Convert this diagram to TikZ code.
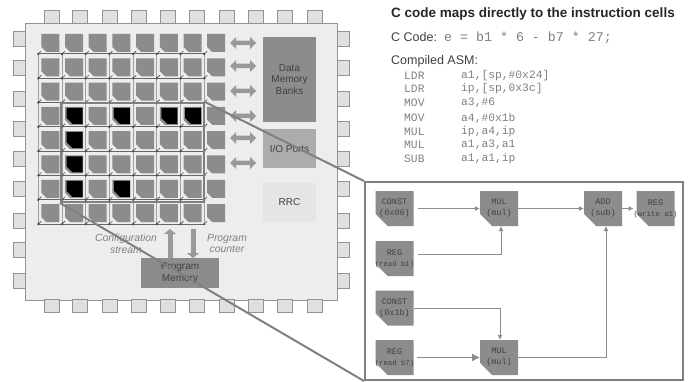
\documentclass[tikz,border=0pt]{standalone}
\usepackage{fontspec}
\setmainfont{Liberation Sans}
\setmonofont{Liberation Mono}
\usetikzlibrary{shapes.arrows,arrows.meta}
\definecolor{cellgray}{gray}{0.55}
\definecolor{linegray}{gray}{0.5}
\definecolor{chipgray}{gray}{0.93}
\definecolor{padgray}{gray}{0.88}
\definecolor{inkgray}{gray}{0.25}
\tikzset{
    pad/.style={draw=gray!85, fill=padgray, line width=0.8pt, minimum width=15pt, minimum height=13pt, inner sep=0pt, outer sep=0pt},
    bank/.style={fill=cellgray, text=inkgray, align=center, inner sep=0pt, outer sep=0pt, font=\fontsize{10}{11.7}\selectfont},
    swap/.style={double arrow, fill=gray!80, minimum height=26pt, minimum width=12pt, double arrow head extend=2pt, inner sep=1pt},
    busarrow/.style={-{Triangle[length=5pt,width=12pt]}, line width=5pt, draw=gray!80},
    note/.style={text=gray, font=\fontsize{10.4}{11.5}\selectfont\itshape, align=center},
    zoomline/.style={draw=linegray, line width=2pt},
    op/.style={text=inkgray, minimum width=38pt, minimum height=35pt, inner sep=0pt, outer sep=0pt, align=center, font=\ttfamily\fontsize{8.5}{11}\selectfont},
    flow/.style={-{Latex[length=5pt,width=5pt]}, draw=gray!90, line width=1pt},
    asm/.style={anchor=west, inner sep=0pt, text=gray, font=\ttfamily\fontsize{11.3}{13}\selectfont},
}
% colour, centre x, centre y, width, height, size of the cut corner
\newcommand{\cutbox}[6]{\fill[#1] (#2,#3) ++({-#4/2},{-#5/2}) -- ++(#4,0) -- ++(0,#5) -- ++({#6-#4},0) -- ++({-#6},{-#6}) -- cycle;}
% name, centre x, centre y, text
\newcommand{\opcell}[4]{\cutbox{cellgray}{#2}{#3}{38}{35}{12}\node[op] (#1) at (#2,#3) {#4};}
\newcommand{\smalltag}[1]{{\fontsize{7.3}{9}\selectfont #1}}
\begin{document}
\begin{tikzpicture}[x=1pt, y=-1pt]
    \useasboundingbox (0,0) rectangle (690,382);

    % Chip body
    \node[draw=gray!85, fill=chipgray, line width=0.8pt, minimum width=312pt, minimum height=277pt, inner sep=0pt] (chip) at (181,161.5) {};

    % Pads on the four sides
    \foreach \x [count=\i] in {52,80,110,139,168,197,227,256,285,315} {
        \node[pad] (padtop\i) at (\x,17) {};
        \node[pad] (padbot\i) at (\x,306) {};
    }
    \foreach \y [count=\i] in {39,68,99,129,159,189,221,250,281} {
        \node[pad, minimum width=12pt, minimum height=15pt] (padleft\i) at (19,\y) {};
        \node[pad, minimum width=12pt, minimum height=15pt] (padright\i) at (343,\y) {};
    }

    % Routing grid
    \foreach \c in {0,...,7} {
        \draw[gray!75, line width=1pt] ({38.3+23.7*\c},54) -- ({38.3+23.7*\c},225);
    }
    \foreach \r in {0,...,7} {
        \draw[gray!80!black, line width=1pt] (38.3,{54+24.3*\r}) -- (204.2,{54+24.3*\r});
    }

    % Cells
    \foreach \c in {0,...,7} {
        \foreach \r in {0,...,7} {
            \cutbox{cellgray}{{50.3+23.7*\c}}{{43+24.3*\r}}{18}{18}{5}
            \fill[gray!60!black] ({38.3+23.7*\c},{54+24.3*\r}) circle (1.3pt);
            \draw[gray!60!black, line width=0.6pt] ({38.3+23.7*\c},{54+24.3*\r}) -- ++(3,-3);
        }
    }

    % Cells in use
    \foreach \c/\r in {1/3,3/3,5/3,6/3,1/4,1/5,1/6,3/6} {
        \cutbox{black}{{50.8+23.7*\c}}{{43+24.3*\r}}{16}{16}{6}
    }

    % Data ports
    \foreach \y [count=\i] in {43,66,91,116,138,163} {
        \node[swap] (swap\i) at (243,\y) {};
    }

    % Blocks on the right and below
    \node[bank, minimum width=53pt, minimum height=85pt] (banks) at (289.5,79.5) {Data\\Memory\\Banks};
    \node[bank, fill=gray!65, minimum width=53pt, minimum height=39pt] (ports) at (289.5,148.5) {I/O Ports};
    \node[bank, fill=gray!20, minimum width=53pt, minimum height=39pt] (rrc) at (289.5,202.5) {RRC};
    \node[bank, minimum width=78pt, minimum height=30pt] (progmem) at (180,273) {Program\\Memory};

    % Configuration and program counter
    \coordinate (upend) at (170,229);
    \coordinate (downstart) at (193,229);
    \draw[busarrow] ([xshift=-10pt]progmem.north) -- (upend);
    \draw[busarrow] (downstart) -- ([xshift=13pt]progmem.north);
    \node[note] (confignote) at (126,244) {Configuration\\stream};
    \node[note] (countnote) at (227,243.5) {Program\\counter};

    % Zoomed panel
    \node[draw=linegray, fill=white, line width=2pt, minimum width=318pt, minimum height=198pt, inner sep=0pt] (panel) at (524,281) {};
    \node[draw=linegray, line width=2pt, minimum width=143pt, minimum height=99pt, inner sep=0pt] (focus) at (132.5,152.5) {};
    \draw[zoomline] (focus.north east) -- (panel.north west);
    \draw[zoomline] (focus.south west) -- (panel.south west);

    % Heading and code
    \node[anchor=west, inner sep=0pt, text=black!85, font=\fontsize{13.5}{15}\selectfont\bfseries] (heading) at (391,14) {C code maps directly to the instruction cells};
    \node[anchor=west, inner sep=0pt, text=inkgray, font=\fontsize{12.5}{14}\selectfont] (ccode) at (391,37) {C Code:};
    \node[anchor=west, inner sep=0pt, text=gray, font=\ttfamily\fontsize{13.3}{14}\selectfont] (cline) at (444,38) {e = b1 * 6 - b7 * 27;};
    \node[anchor=west, inner sep=0pt, text=inkgray, font=\fontsize{12.5}{14}\selectfont] (asmhead) at (391,61) {Compiled ASM:};
    \foreach \y/\op/\args [count=\i] in {76/LDR/{a1,[sp,\#0x24]},89/LDR/{ip,[sp,0x3c]},103/MOV/{a3,\#6},118/MOV/{a4,\#0x1b},132/MUL/{ip,a4,ip},145/MUL/{a1,a3,a1},159/SUB/{a1,a1,ip}} {
        \node[asm] (opname\i) at (404,\y) {\op};
        \node[asm] (oparg\i) at (461,\y) {\args};
    }

    % Operation cells
    \opcell{const1}{394.5}{208.5}{CONST\\(0x06)}
    \opcell{reg1}{394.5}{258.5}{REG\\\smalltag{(read b1)}}
    \opcell{const2}{394.5}{308}{CONST\\(0x1b)}
    \opcell{reg2}{394.5}{357.5}{REG\\\smalltag{(read b7)}}
    \opcell{mul1}{499}{208.5}{MUL\\(mul)}
    \opcell{mul2}{499}{357.5}{MUL\\(mul)}
    \opcell{add1}{603}{208.5}{ADD\\(sub)}
    \opcell{reg3}{655.5}{208.5}{REG\\\smalltag{(write a1)}}

    % Data flow
    \draw[flow, shorten <=4pt] (const1.east) -- (mul1.west);
    \draw[flow, shorten <=4pt] ([yshift=4pt]reg1.east) -| ([xshift=2pt]mul1.south);
    \draw[flow] (const2.east) -| ([xshift=1pt]mul2.north);
    \draw[flow, shorten <=3pt, -{Latex[length=8pt,width=8pt]}] (reg2.east) -- (mul2.west);
    \draw[flow] (mul1.east) -- (add1.west);
    \draw[flow] (mul2.east) -| ([xshift=3pt]add1.south);
    \draw[flow] (add1.east) -- (reg3.west);
\end{tikzpicture}
\end{document}
